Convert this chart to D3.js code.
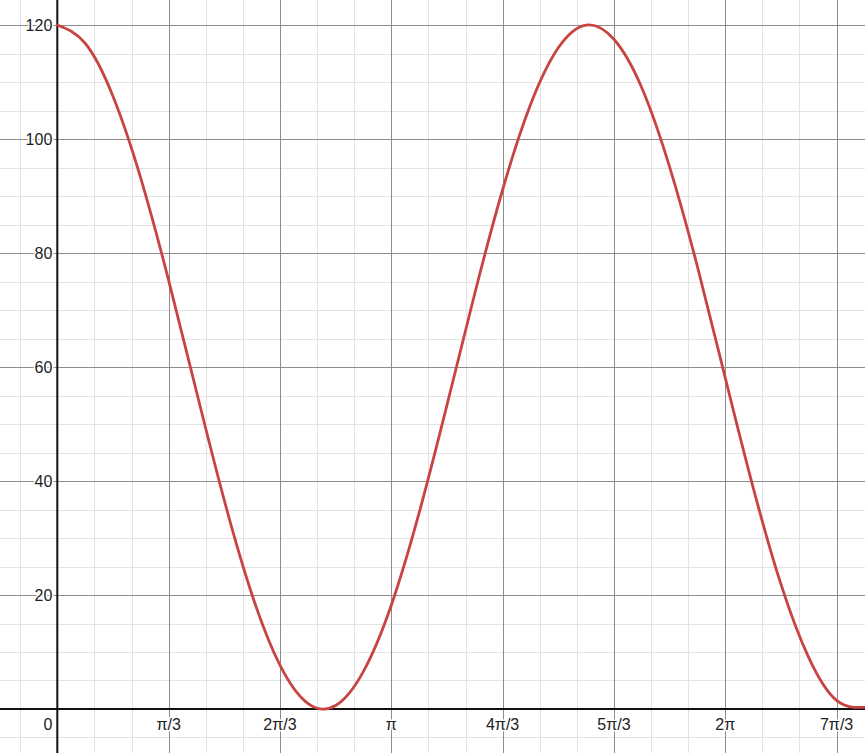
<!DOCTYPE html>
<html>
<head>
<meta charset="utf-8">
<script src="https://cdn.jsdelivr.net/npm/d3@7"></script>
<style>
  html, body { margin: 0; padding: 0; background: #fff; }
  svg { display: block; }
  text { font-family: Arial, "Liberation Sans", sans-serif; }
</style>
</head>
<body>
<svg id="chart" width="865" height="753"></svg>
<script>
// x positions in units of π/12
const xSteps = [0,1,2,3,4,5,6,7,8,9,10,11,12,13,14,15,16,17,18,19,20,21,22,23,24,25,26,27,28,29];
// y values
const yValues = [120,116.8,107.5,93.1,75.2,55.7,36.6,20.0,7.7,1.0,0.6,6.6,18.2,34.4,53.3,72.9,91.1,106.0,116.0,120.0,117.5,109.0,95.1,77.6,58.1,38.9,21.9,9.0,1.5,0.3];
// axis ticks
const xTickMultiples = [1,2,3,4,5,6,7]; // multiples of π/3
const xTickLabels = ["π/3","2π/3","π","4π/3","5π/3","2π","7π/3"];
const yTicks = [20,40,60,80,100,120];
const yTickLabels = ["20","40","60","80","100","120"];

const W = 865, H = 753;
const PI = Math.PI;
const xDomain = [-0.1716 * PI, 2.4184 * PI];
const yDomain = [-7.72, 124.39];

const x = d3.scaleLinear().domain(xDomain).range([0, W]);
const y = d3.scaleLinear().domain(yDomain).range([H, 0]);

const svg = d3.select("#chart");

// minor grid
const minorX = d3.range(-1, 23).map(i => i * PI / 9).filter(v => v >= xDomain[0] && v <= xDomain[1]);
const minorY = d3.range(-2, 26).map(i => i * 5).filter(v => v >= yDomain[0] && v <= yDomain[1]);
const gMinor = svg.append("g").attr("stroke", "#e3e3e3").attr("stroke-width", 1);
gMinor.selectAll("line.vx").data(minorX).join("line")
  .attr("x1", d => Math.round(x(d)) + 0.5).attr("x2", d => Math.round(x(d)) + 0.5)
  .attr("y1", 0).attr("y2", H);
gMinor.selectAll("line.hy").data(minorY).join("line")
  .attr("y1", d => Math.round(y(d)) + 0.5).attr("y2", d => Math.round(y(d)) + 0.5)
  .attr("x1", 0).attr("x2", W);

// major grid
const majorX = xTickMultiples.map(m => m * PI / 3);
const gMajor = svg.append("g").attr("stroke", "#8c8c8c").attr("stroke-width", 1);
gMajor.selectAll("line.vx").data(majorX).join("line")
  .attr("x1", d => Math.round(x(d)) + 0.5).attr("x2", d => Math.round(x(d)) + 0.5)
  .attr("y1", 0).attr("y2", H);
gMajor.selectAll("line.hy").data(yTicks).join("line")
  .attr("y1", d => Math.round(y(d)) + 0.5).attr("y2", d => Math.round(y(d)) + 0.5)
  .attr("x1", 0).attr("x2", W);

// axes
svg.append("line").attr("x1", x(0)).attr("x2", x(0)).attr("y1", 0).attr("y2", H)
  .attr("stroke", "#111").attr("stroke-width", 2);
svg.append("line").attr("y1", y(0)).attr("y2", y(0)).attr("x1", 0).attr("x2", W)
  .attr("stroke", "#111").attr("stroke-width", 2);

// curve
const pts = xSteps.map((s, i) => [s * PI / 12, yValues[i]]);
const line = d3.line().x(d => x(d[0])).y(d => y(d[1])).curve(d3.curveNatural);
svg.append("path").datum(pts).attr("d", line)
  .attr("fill", "none").attr("stroke", "#c74440").attr("stroke-width", 2.8)
  .attr("stroke-linecap", "round");

// labels
const labelStyle = sel => sel
  .attr("font-size", 16).attr("fill", "#222")
  .attr("stroke", "#fff").attr("stroke-width", 3).attr("paint-order", "stroke")
  .attr("stroke-linejoin", "round");

svg.append("g").selectAll("text").data(yTicks).join("text")
  .attr("x", x(0) - 5).attr("y", d => y(d)).attr("dy", "0.36em")
  .attr("text-anchor", "end").text((d, i) => yTickLabels[i]).call(labelStyle);

svg.append("g").selectAll("text").data(majorX).join("text")
  .attr("x", d => x(d)).attr("y", y(0) + 21)
  .attr("text-anchor", "middle").text((d, i) => xTickLabels[i]).call(labelStyle);

svg.append("text").attr("x", x(0) - 5).attr("y", y(0) + 21)
  .attr("text-anchor", "end").text("0").call(labelStyle);
</script>
</body>
</html>
